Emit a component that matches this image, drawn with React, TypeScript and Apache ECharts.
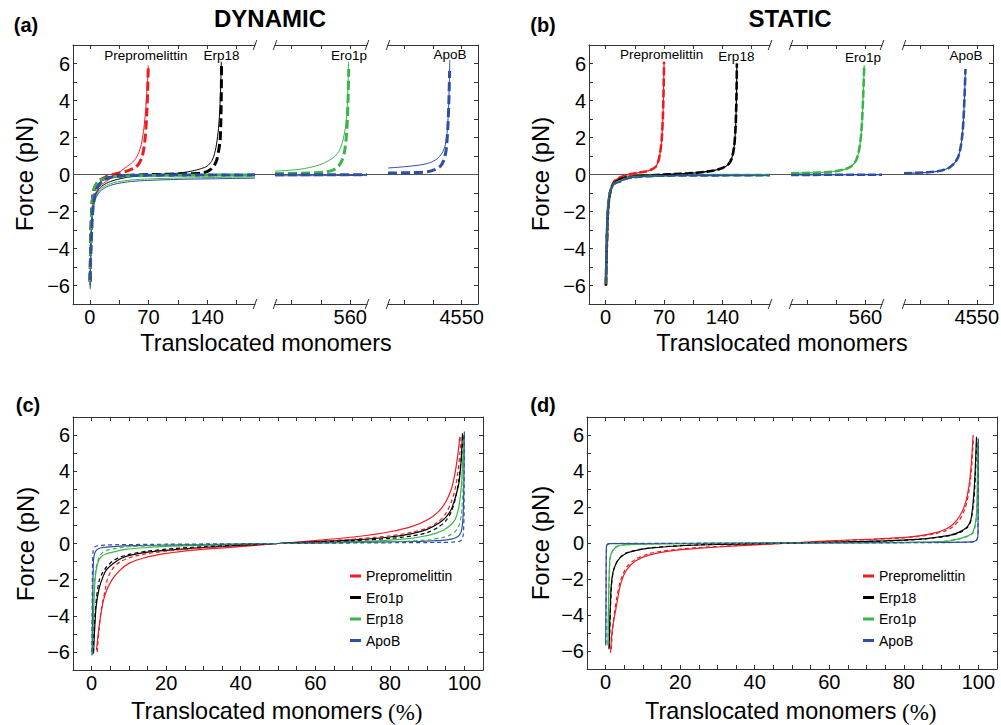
import React, { useEffect, useRef } from 'react';
import * as echarts from 'echarts';

const FF = "'Liberation Sans', Arial, Helvetica, sans-serif";
const SERIF = "'Liberation Serif', 'Times New Roman', serif";
const RED = '#ec1c24';
const BLACK = '#000000';
const GREEN = '#3ab54a';
const BLUE = '#2e4fa3';
const AXC = '#333333';

// ---------- axes / ticks ----------
const forceRange = [-7, 7];
const yLabelValues = [-6, -4, -2, 0, 2, 4, 6];
const seg1Range = [-20, 197];
const seg2Range = [470, 580];
const seg3Range = [4460, 4570];
const seg1Ticks = [0, 35, 70, 105, 140, 175];
const seg1Labels = [0, 70, 140];
const seg2Ticks = [490, 525, 560];
const seg2Labels = [560];
const seg3Ticks = [4480, 4515, 4550];
const seg3Labels = [4550];
const pctRange = [-5, 105];
const pctLabels = [0, 20, 40, 60, 80, 100];

// ---------- labels ----------
const proteinNames = ['Prepromelittin', 'Erp18', 'Ero1p', 'ApoB'];
const labelSeg = [0, 0, 1, 2];
const aLabelPos = [[67, 6.45], [157, 6.45], [558.5, 6.45], [4535.8, 6.5]];
const bLabelPos = [[67, 6.5], [156.7, 6.4], [557, 6.35], [4536.6, 6.45]];
const legendC = ['Prepromelittin', 'Ero1p', 'Erp18', 'ApoB'];
const legendD = ['Prepromelittin', 'Erp18', 'Ero1p', 'ApoB'];

// ---------- (a) DYNAMIC ----------
const aRedSolid = [[0.5, -6.0], [1, -4.5], [2, -2.8], [4, -1.55], [7, -1.0], [12, -0.62], [20, -0.36], [28, -0.12], [33, 0.05], [38, 0.22], [44, 0.42], [50, 0.62], [55, 0.88], [59, 1.25], [62, 1.75], [64.5, 2.5], [66.5, 3.4], [68, 4.4], [69.2, 5.3], [69.8, 5.9]];
const aRedDash = [[0.5, -5.8], [1, -4.0], [2, -2.3], [3, -1.4], [5, -0.8], [8, -0.5], [12, -0.3], [18, -0.15], [27, 0], [35, 0.08], [42, 0.15], [48, 0.25], [54, 0.38], [58, 0.55], [62, 0.9], [64.5, 1.4], [66.5, 2.2], [68, 3.3], [69, 4.5], [69.8, 5.9]];
const aBlackSolid = [[0.5, -6.0], [1, -4.4], [2, -2.8], [4, -1.65], [7, -1.1], [12, -0.72], [20, -0.47], [30, -0.3], [45, -0.15], [60, -0.06], [80, 0], [100, 0.05], [115, 0.13], [125, 0.22], [133, 0.32], [140, 0.45], [145, 0.7], [148, 1.0], [151, 1.6], [153.5, 2.5], [155, 3.5], [156.3, 5.0], [156.8, 6.1]];
const aBlackDash = [[0.5, -5.8], [1, -4.0], [2, -2.3], [3, -1.45], [5, -0.85], [8, -0.52], [12, -0.34], [20, -0.19], [30, -0.1], [50, -0.04], [80, 0], [110, 0.03], [125, 0.05], [133, 0.08], [140, 0.16], [145, 0.3], [148.5, 0.5], [151.5, 0.8], [153.5, 1.25], [155.5, 1.9], [156.3, 3.0], [156.8, 4.3], [157.1, 5.9]];
const aGreenSolid1 = [[0.5, -6.1], [1, -4.5], [2, -2.95], [4, -1.8], [7, -1.2], [12, -0.82], [20, -0.58], [30, -0.43], [45, -0.32], [65, -0.25], [100, -0.2], [150, -0.16], [197, -0.13]];
const aGreenSolid2 = [[470, 0.18], [490, 0.24], [505, 0.32], [518, 0.45], [528, 0.6], [536, 0.8], [542, 1.0], [547, 1.3], [551, 1.8], [554, 2.5], [556, 3.4], [557.2, 4.6], [558, 6.1]];
const aGreenDash1 = [[0.5, -5.8], [1, -4.0], [2, -2.35], [3, -1.45], [5, -0.82], [8, -0.5], [12, -0.33], [20, -0.18], [30, -0.11], [50, -0.07], [100, -0.04], [197, -0.03]];
const aGreenDash2 = [[470, 0.05], [500, 0.07], [520, 0.1], [532, 0.15], [540, 0.25], [546, 0.45], [550.5, 0.8], [553, 1.2], [555, 1.9], [556.5, 2.9], [557.5, 4.3], [558.2, 5.7]];
const aBlueSolid1 = [[0.5, -6.2], [1, -4.6], [2, -3.05], [4, -1.9], [7, -1.3], [12, -0.92], [20, -0.67], [30, -0.52], [45, -0.4], [65, -0.33], [100, -0.27], [150, -0.23], [197, -0.2]];
const aBlueSolid2 = [[470, -0.07], [525, -0.06], [580, -0.05]];
const aBlueSolid3 = [[4460, 0.35], [4480, 0.42], [4500, 0.52], [4512, 0.65], [4520, 0.85], [4526, 1.15], [4530, 1.6], [4532.5, 2.4], [4534, 3.6], [4535, 5.0], [4535.5, 6.2]];
const aBlueDash1 = [[0.3, -5.7], [1, -4.6], [2, -3.4], [3, -2.4], [4, -1.75], [6, -1.1], [8, -0.8], [10, -0.62], [14, -0.4], [20, -0.22], [28, -0.12], [40, -0.07], [70, -0.04], [197, -0.02]];
const aBlueDash2 = [[470, -0.01], [580, -0.01]];
const aBlueDash3 = [[4460, 0.08], [4490, 0.1], [4508, 0.15], [4518, 0.28], [4524, 0.45], [4528, 0.75], [4531, 1.3], [4533, 2.4], [4534.3, 3.8], [4535.3, 5.6]];

// ---------- (b) STATIC ----------
const bRed = [[0.3, -6], [1, -4.5], [2, -2.7], [3, -1.8], [5, -1.05], [8, -0.55], [12, -0.3], [18, -0.15], [25, -0.04], [30, 0.02], [40, 0.1], [48, 0.16], [55, 0.27], [60, 0.42], [63, 0.7], [65, 1.1], [67, 1.8], [68.5, 3.0], [69.3, 4.3], [70, 6.1]];
const bBlack = [[0.3, -6], [1, -4.5], [2, -2.7], [3, -1.8], [5, -1.05], [8, -0.6], [12, -0.36], [20, -0.2], [35, -0.1], [55, -0.04], [80, 0.02], [100, 0.06], [115, 0.12], [130, 0.22], [140, 0.35], [147, 0.55], [151, 0.85], [154, 1.5], [155.8, 2.6], [156.8, 4.2], [157.3, 6.0]];
const bGreen1 = [[0.3, -5.9], [1, -4.4], [2, -2.6], [3, -1.7], [5, -1.0], [8, -0.6], [12, -0.42], [17, -0.34], [25, -0.2], [35, -0.12], [60, -0.06], [100, -0.04], [197, -0.03]];
const bGreen2 = [[470, 0.07], [500, 0.1], [520, 0.15], [535, 0.28], [543, 0.45], [549, 0.8], [553, 1.5], [555.5, 2.6], [557.3, 4.3], [558.5, 5.9]];
const bBlue1 = [[0.3, -5.8], [1, -4.3], [2, -2.6], [3, -1.75], [5, -1.0], [8, -0.62], [12, -0.45], [17, -0.38], [25, -0.22], [35, -0.14], [60, -0.07], [100, -0.05], [197, -0.04]];
const bBlue2 = [[470, -0.02], [580, -0.01]];
const bBlue3 = [[4460, 0.07], [4490, 0.12], [4505, 0.2], [4515, 0.35], [4522, 0.6], [4527, 0.95], [4530.5, 1.6], [4533, 2.6], [4534.8, 4.2], [4536, 5.7]];

// ---------- (c) ----------
const cRedSolid = [[1.3, -5.9], [2, -4.6], [3, -3.3], [4, -2.6], [5.5, -2.0], [7.5, -1.5], [10, -1.1], [14, -0.8], [20, -0.55], [28, -0.35], [38, -0.2], [50, 0], [62, 0.2], [72, 0.4], [80, 0.65], [86, 0.95], [90, 1.3], [93, 1.75], [95, 2.3], [96.5, 3.0], [97.5, 3.9], [98.3, 5.0], [98.8, 5.9]];
const cRedDash = [[1.5, -6], [2, -4.7], [2.7, -3.5], [3.5, -2.7], [4.2, -2.0], [5, -1.6], [6, -1.3], [7.5, -1.03], [10, -0.8], [14.7, -0.57], [20, -0.42], [28, -0.27], [38, -0.13], [50, 0], [62, 0.13], [72, 0.27], [80, 0.42], [86, 0.62], [90, 0.85], [93, 1.2], [95, 1.65], [96.5, 2.3], [97.5, 3.0], [98.3, 4.0], [98.8, 5.0], [99.1, 5.9]];
const cBlackSolid = [[0.5, -6.1], [0.8, -4.8], [1.2, -3.5], [2, -2.5], [3, -1.86], [4, -1.45], [5.7, -1.12], [8, -0.82], [10.2, -0.66], [15, -0.48], [20, -0.38], [30, -0.22], [40, -0.1], [50, 0], [60, 0.1], [70, 0.2], [80, 0.36], [86, 0.55], [90, 0.78], [93, 1.1], [95, 1.45], [96.5, 1.9], [97.5, 2.5], [98.5, 3.3], [99.1, 4.5], [99.5, 6.1]];
const cBlackDash = [[0.4, -6], [0.8, -4.3], [1.3, -3.0], [2.1, -2.0], [3, -1.6], [4, -1.3], [5.5, -1.0], [7.5, -0.76], [10, -0.6], [15, -0.42], [22, -0.28], [30, -0.18], [40, -0.08], [50, 0], [60, 0.08], [70, 0.16], [80, 0.28], [86, 0.42], [90, 0.6], [93, 0.9], [95, 1.25], [96.5, 1.75], [97.6, 2.5], [98.5, 3.5], [99.2, 4.8], [99.7, 6.0]];
const cGreenSolid = [[0.3, -6.1], [0.5, -4], [0.8, -2.4], [1.2, -1.5], [1.8, -1.0], [2.6, -0.72], [4, -0.57], [5.7, -0.48], [9, -0.33], [14.7, -0.22], [22, -0.15], [32, -0.09], [42, -0.04], [50, 0], [60, 0.05], [70, 0.1], [78, 0.16], [85, 0.27], [89, 0.4], [92, 0.55], [94.5, 0.75], [96.5, 1.05], [97.6, 1.35], [98.5, 2.0], [99.2, 3.2], [99.6, 4.8], [99.8, 6.0]];
const cGreenDash = [[0.2, -6], [0.4, -3.5], [0.8, -2.0], [1.2, -1.35], [1.7, -0.94], [2.3, -0.65], [3, -0.48], [4.2, -0.37], [5.7, -0.3], [9, -0.2], [15, -0.13], [25, -0.07], [38, -0.03], [50, 0], [62, 0.03], [75, 0.07], [85, 0.13], [91, 0.22], [94, 0.32], [96, 0.45], [97.5, 0.65], [98.5, 0.95], [99.2, 1.6], [99.6, 3.0], [99.8, 4.8], [99.9, 6.0]];
const cBlueSolid = [[0.1, -6.2], [0.2, -4.5], [0.35, -2.2], [0.5, -0.94], [0.8, -0.55], [1.2, -0.4], [1.7, -0.3], [3, -0.22], [5.7, -0.17], [12, -0.12], [25, -0.08], [40, -0.04], [50, 0], [60, 0.04], [75, 0.08], [88, 0.12], [94, 0.17], [96.5, 0.24], [97.8, 0.33], [98.6, 0.45], [99.2, 0.7], [99.6, 1.3], [99.8, 2.5], [99.9, 4.0], [100, 6.2]];
const cBlueDash = [[0.05, -6], [0.15, -3], [0.25, -1.0], [0.4, -0.4], [0.7, -0.22], [1.2, -0.15], [2.5, -0.1], [6, -0.07], [20, -0.04], [50, 0], [80, 0.04], [94, 0.06], [97, 0.08], [98.6, 0.12], [99.3, 0.2], [99.7, 0.5], [99.9, 1.5], [99.95, 4.0], [100, 6.1]];

// ---------- (d) ----------
const dRedSolid = [[1.3, -6.1], [1.8, -4.8], [2.9, -3.5], [4, -2.3], [5.6, -1.5], [8, -1.0], [11.8, -0.66], [18, -0.42], [25.3, -0.29], [35, -0.16], [50, 0], [62, 0.14], [72, 0.22], [79, 0.3], [84, 0.4], [88, 0.55], [91, 0.75], [93, 1.0], [95, 1.5], [96.5, 2.2], [97.5, 3.2], [98.1, 4.4], [98.6, 6.0]];
const dRedDash = [[1.5, -5.9], [2, -4.5], [3, -3.0], [4, -2.1], [5.6, -1.35], [8, -0.9], [11.8, -0.58], [18, -0.38], [25, -0.25], [35, -0.14], [50, 0], [62, 0.12], [72, 0.2], [79, 0.27], [84, 0.36], [88, 0.49], [91, 0.66], [93, 0.88], [95, 1.3], [96.5, 1.95], [97.5, 2.9], [98.2, 4.2], [98.7, 5.9]];
const dBlackSolid = [[0.9, -5.9], [1.2, -3.8], [1.5, -2.4], [2, -1.6], [2.9, -1.1], [4, -0.8], [5.6, -0.57], [8, -0.42], [11.8, -0.29], [18, -0.18], [25.3, -0.11], [35, -0.06], [50, 0], [65, 0.07], [75, 0.12], [83.5, 0.2], [88, 0.3], [92.5, 0.44], [95, 0.62], [97, 0.9], [98, 1.3], [98.7, 2.5], [99.1, 3.8], [99.5, 5.9]];
const dBlackDash = [[1.0, -5.8], [1.3, -3.6], [1.6, -2.3], [2.1, -1.55], [3, -1.05], [4, -0.77], [5.6, -0.55], [8, -0.4], [12, -0.27], [18, -0.17], [25, -0.1], [35, -0.05], [50, 0], [65, 0.06], [75, 0.11], [83.5, 0.19], [88, 0.28], [92.5, 0.42], [95, 0.58], [97, 0.85], [98, 1.25], [98.8, 2.4], [99.2, 3.8], [99.55, 5.8]];
const dGreenSolid = [[0.6, -5.7], [0.8, -3.0], [1.1, -0.94], [1.5, -0.6], [2, -0.39], [3, -0.2], [4.6, -0.11], [8, -0.07], [12, -0.05], [25, -0.03], [50, 0], [75, 0.03], [88, 0.06], [92, 0.1], [95.2, 0.26], [97, 0.38], [98.3, 0.53], [99, 0.9], [99.5, 1.6], [99.7, 3.0], [99.8, 5.6]];
const dGreenDash = [[0.65, -5.6], [0.85, -2.9], [1.15, -0.9], [1.6, -0.55], [2.1, -0.36], [3, -0.19], [5, -0.1], [12, -0.05], [50, 0], [88, 0.05], [95.2, 0.24], [98.3, 0.5], [99.1, 0.9], [99.55, 1.6], [99.75, 3.0], [99.85, 5.5]];
const dBlueSolid = [[0, -5.7], [0.1, -3.0], [0.2, -0.2], [0.5, -0.07], [1.1, -0.04], [10, -0.03], [50, 0], [90, 0.03], [98, 0.06], [99.3, 0.12], [99.8, 0.3], [99.9, 0.6], [100, 5.8]];
const dBlueDash = [[0.05, -5.6], [0.15, -2.8], [0.25, -0.2], [0.55, -0.06], [1.2, -0.03], [10, -0.02], [50, 0], [90, 0.02], [98, 0.05], [99.3, 0.1], [99.8, 0.28], [99.92, 0.6], [100, 5.7]];

// ---------- layout ----------
const TOP_AB = 45;
const H_AB = 259;
const gridsA = [{ left: 73, width: 182 }, { left: 275, width: 92 }, { left: 388, width: 90 }];
const gridsB = [{ left: 589, width: 181 }, { left: 791, width: 91 }, { left: 904, width: 89 }];
const gridC = { left: 73, top: 417, width: 410, height: 253 };
const gridD = { left: 587, top: 417, width: 410, height: 252 };

const yFmt = (v: number) => {
  const r = Math.round(v);
  if (!yLabelValues.includes(r)) return '';
  return r < 0 ? '\u2212' + -r : String(r);
};
const pctFmt = (v: number) => {
  const r = Math.round(v);
  return pctLabels.includes(r) ? String(r) : '';
};
const plainFmt = (v: number) => String(Math.round(v));

const lineStyleAx = { color: AXC, width: 1 };

function yAx(grid: number, pos: string, showLabels: boolean, show = true) {
  return {
    type: 'value', gridIndex: grid, position: pos, show,
    min: forceRange[0], max: forceRange[1], interval: 1,
    axisLine: { show: true, onZero: false, lineStyle: lineStyleAx },
    axisTick: { show: true, inside: true, length: 4, lineStyle: lineStyleAx },
    axisLabel: { show: showLabels, formatter: yFmt, fontSize: 20, fontFamily: FF, color: '#000', margin: 3 },
    splitLine: { show: false },
  };
}

function xSeg(grid: number, pos: string, range: number[], ticks: number[], labels: number[], showLabels: boolean) {
  return {
    type: 'value', gridIndex: grid, position: pos, min: range[0], max: range[1],
    axisLine: { show: true, onZero: false, lineStyle: lineStyleAx },
    axisTick: { show: true, inside: true, length: 4, customValues: ticks, lineStyle: lineStyleAx },
    axisLabel: { show: showLabels, customValues: labels, formatter: plainFmt, fontSize: 20, fontFamily: FF, color: '#000', margin: 3 },
    splitLine: { show: false },
  };
}

function xPct(grid: number, pos: string, showLabels: boolean) {
  return {
    type: 'value', gridIndex: grid, position: pos, min: pctRange[0], max: pctRange[1], interval: 5,
    axisLine: { show: true, onZero: false, lineStyle: lineStyleAx },
    axisTick: { show: true, inside: true, length: 4, lineStyle: lineStyleAx },
    axisLabel: { show: showLabels, formatter: pctFmt, fontSize: 20, fontFamily: FF, color: '#000', margin: 3 },
    splitLine: { show: false },
  };
}

function L(name: string, data: number[][], g: number, color: string, width: number, dash: any, z = 2) {
  return {
    type: 'line', name, data, xAxisIndex: g * 2, yAxisIndex: g,
    showSymbol: false, symbol: 'none', smooth: 0.25, silent: true, z,
    lineStyle: { color, width, type: dash || 'solid', cap: 'butt' },
    itemStyle: { color },
  };
}

function buildOption() {
  const grid: any[] = [];
  gridsA.forEach((g) => grid.push({ left: g.left, width: g.width, top: TOP_AB, height: H_AB }));
  gridsB.forEach((g) => grid.push({ left: g.left, width: g.width, top: TOP_AB, height: H_AB }));
  grid.push({ ...gridC });
  grid.push({ ...gridD });
  grid.forEach((g) => { g.containLabel = false; g.outerBoundsMode = 'none'; });

  const segs = [
    { range: seg1Range, ticks: seg1Ticks, labels: seg1Labels },
    { range: seg2Range, ticks: seg2Ticks, labels: seg2Labels },
    { range: seg3Range, ticks: seg3Ticks, labels: seg3Labels },
  ];
  const xAxis: any[] = [];
  const yAxis: any[] = [];
  for (let g = 0; g < 6; g++) {
    const s = segs[g % 3];
    xAxis.push(xSeg(g, 'bottom', s.range, s.ticks, s.labels, true));
    xAxis.push(xSeg(g, 'top', s.range, s.ticks, s.labels, false));
  }
  xAxis.push(xPct(6, 'bottom', true));
  xAxis.push(xPct(6, 'top', false));
  xAxis.push(xPct(7, 'bottom', true));
  xAxis.push(xPct(7, 'top', false));
  for (let g = 0; g < 6; g++) {
    const k = g % 3;
    if (k === 0) yAxis.push(yAx(g, 'left', true));
    else if (k === 1) yAxis.push(yAx(g, 'left', false, false));
    else yAxis.push(yAx(g, 'right', false));
  }
  yAxis.push(yAx(6, 'left', true));
  yAxis.push(yAx(7, 'left', true));
  yAxis.push(yAx(6, 'right', false)); // 8
  yAxis.push(yAx(7, 'right', false)); // 9

  const dA = [9, 4];
  const dB = [8, 3];
  const dC = [4, 3];
  const series: any[] = [
    // (a) solid thin
    L('a-red-s', aRedSolid, 0, RED, 1, null),
    L('a-black-s', aBlackSolid, 0, BLACK, 1, null),
    L('a-green-s1', aGreenSolid1, 0, GREEN, 1, null),
    L('a-green-s2', aGreenSolid2, 1, GREEN, 1, null),
    L('a-blue-s1', aBlueSolid1, 0, BLUE, 1, null),
    L('a-blue-s2', aBlueSolid2, 1, BLUE, 1, null),
    L('a-blue-s3', aBlueSolid3, 2, BLUE, 1, null),
    // (a) dashed thick
    L('a-red-d', aRedDash, 0, RED, 3, dA, 3),
    L('a-black-d', aBlackDash, 0, BLACK, 3, dA, 3),
    L('a-green-d1', aGreenDash1, 0, GREEN, 3, dA, 3),
    L('a-green-d2', aGreenDash2, 1, GREEN, 3, dA, 3),
    L('a-blue-d1', aBlueDash1, 0, BLUE, 3, dA, 3),
    L('a-blue-d2', aBlueDash2, 1, BLUE, 3, dA, 3),
    L('a-blue-d3', aBlueDash3, 2, BLUE, 3, dA, 3),
    // (b) dashed thick + solid thin
    L('b-red-d', bRed, 3, RED, 2.6, dB),
    L('b-black-d', bBlack, 3, BLACK, 2.6, dB),
    L('b-green-d1', bGreen1, 3, GREEN, 2.6, dB),
    L('b-green-d2', bGreen2, 4, GREEN, 2.6, dB),
    L('b-blue-d1', bBlue1, 3, BLUE, 2.6, dB),
    L('b-blue-d2', bBlue2, 4, BLUE, 2.6, dB),
    L('b-blue-d3', bBlue3, 5, BLUE, 2.6, dB),
    L('b-red-s', bRed, 3, RED, 1.2, null, 3),
    L('b-black-s', bBlack, 3, BLACK, 1.2, null, 3),
    L('b-green-s1', bGreen1, 3, GREEN, 1.2, null, 3),
    L('b-green-s2', bGreen2, 4, GREEN, 1.2, null, 3),
    L('b-blue-s1', bBlue1, 3, BLUE, 1.2, null, 3),
    L('b-blue-s2', bBlue2, 4, BLUE, 1.2, null, 3),
    L('b-blue-s3', bBlue3, 5, BLUE, 1.2, null, 3),
    // (c)
    L('c:Prepromelittin', cRedSolid, 6, RED, 1.2, null),
    L('c:Ero1p', cBlackSolid, 6, BLACK, 1.2, null),
    L('c:Erp18', cGreenSolid, 6, GREEN, 1.2, null),
    L('c:ApoB', cBlueSolid, 6, BLUE, 1.2, null),
    L('c-red-d', cRedDash, 6, RED, 1.2, dC),
    L('c-black-d', cBlackDash, 6, BLACK, 1.2, dC),
    L('c-green-d', cGreenDash, 6, GREEN, 1.2, dC),
    L('c-blue-d', cBlueDash, 6, BLUE, 1.2, dC),
    // (d)
    L('d:Prepromelittin', dRedSolid, 7, RED, 1.2, null),
    L('d:Erp18', dBlackSolid, 7, BLACK, 1.2, null),
    L('d:Ero1p', dGreenSolid, 7, GREEN, 1.2, null),
    L('d:ApoB', dBlueSolid, 7, BLUE, 1.2, null),
    L('d-red-d', dRedDash, 7, RED, 1.2, dC),
    L('d-black-d', dBlackDash, 7, BLACK, 1.2, dC),
    L('d-green-d', dGreenDash, 7, GREEN, 1.2, dC),
    L('d-blue-d', dBlueDash, 7, BLUE, 1.2, dC),
  ];

  const legendBase = {
    orient: 'vertical', itemWidth: 11, itemHeight: 3, itemGap: 7.5, icon: 'rect',
    selectedMode: false, padding: 0,
    formatter: (n: string) => n.slice(2),
    textStyle: { fontSize: 14, fontFamily: FF, color: '#000' },
  };
  const legend = [
    { ...legendBase, left: 350, top: 569, data: legendC.map((n) => 'c:' + n) },
    { ...legendBase, left: 863, top: 569, data: legendD.map((n) => 'd:' + n) },
  ];

  return { animation: false, backgroundColor: '#fff', grid, xAxis, yAxis, series, legend };
}

function txt(text: string, x: number, y: number, size: number, opts: any = {}) {
  return {
    type: 'text', x, y, silent: true, z: 10, rotation: opts.rotation || 0,
    style: {
      text, fontSize: size, fontFamily: opts.family || FF, fontWeight: opts.weight || 'normal', fill: '#000',
      textAlign: opts.align || 'center', textVerticalAlign: 'middle', align: opts.align || 'center', verticalAlign: 'middle',
    },
  };
}

function seg(x1: number, y1: number, x2: number, y2: number, color = AXC) {
  return { type: 'line', silent: true, z: 1, shape: { x1, y1, x2, y2 }, style: { stroke: color, lineWidth: 1 } };
}

function buildGraphics(chart: any) {
  const el: any[] = [];
  el.push(txt('DYNAMIC', 270, 18, 24, { weight: 'bold' }));
  el.push(txt('STATIC', 790, 18, 24, { weight: 'bold' }));
  el.push(txt('(a)', 26, 25, 20, { weight: 'bold' }));
  el.push(txt('(b)', 543, 25, 20, { weight: 'bold' }));
  el.push(txt('(c)', 28, 405, 20, { weight: 'bold' }));
  el.push(txt('(d)', 543, 405, 20, { weight: 'bold' }));
  el.push(txt('Force (pN)', 24, 174, 24, { rotation: Math.PI / 2 }));
  el.push(txt('Force (pN)', 540, 174, 24, { rotation: Math.PI / 2 }));
  el.push(txt('Force (pN)', 25, 544, 24, { rotation: Math.PI / 2 }));
  el.push(txt('Force (pN)', 540, 543, 24, { rotation: Math.PI / 2 }));
  el.push(txt('Translocated monomers', 266, 343, 23.4));
  el.push(txt('Translocated monomers', 782, 343, 23.4));
  el.push(txt('Translocated monomers', 131, 711, 23.4, { align: 'left' }));
  el.push(txt('(%)', 388, 712, 23, { align: 'left', family: SERIF }));
  el.push(txt('Translocated monomers', 645, 711, 23.4, { align: 'left' }));
  el.push(txt('(%)', 902, 712, 23, { align: 'left', family: SERIF }));

  [0, 3].forEach((base) => {
    const pL = chart.convertToPixel({ gridIndex: base }, [seg1Range[0], 0]);
    const pR = chart.convertToPixel({ gridIndex: base + 2 }, [seg3Range[1], 0]);
    el.push(seg(pL[0], pL[1], pR[0], pR[1], '#555'));
    const edges = [
      chart.convertToPixel({ gridIndex: base }, [seg1Range[1], forceRange[1]]),
      chart.convertToPixel({ gridIndex: base + 1 }, [seg2Range[0], forceRange[1]]),
      chart.convertToPixel({ gridIndex: base + 1 }, [seg2Range[1], forceRange[1]]),
      chart.convertToPixel({ gridIndex: base + 2 }, [seg3Range[0], forceRange[1]]),
    ];
    const bottomY = chart.convertToPixel({ gridIndex: base }, [0, forceRange[0]])[1];
    edges.forEach((p: number[]) => {
      el.push(seg(p[0] - 1.8, p[1] + 5, p[0] + 1.8, p[1] - 5));
      el.push(seg(p[0] - 1.8, bottomY + 5, p[0] + 1.8, bottomY - 5));
    });
    const pos = base === 0 ? aLabelPos : bLabelPos;
    proteinNames.forEach((n, i) => {
      const p = chart.convertToPixel({ gridIndex: base + labelSeg[i] }, pos[i]);
      el.push(txt(n, p[0], p[1], 13.5));
    });
  });
  return el;
}

export default function App() {
  const ref = useRef<HTMLDivElement>(null);
  useEffect(() => {
    document.body.style.margin = '0';
    const chart = echarts.init(ref.current as HTMLDivElement, null, { renderer: 'svg' });
    chart.setOption(buildOption() as any);
    chart.setOption({ graphic: { elements: buildGraphics(chart) } } as any);
    return () => chart.dispose();
  }, []);
  return <div ref={ref} style={{ width: 1001, height: 725 }} />;
}
